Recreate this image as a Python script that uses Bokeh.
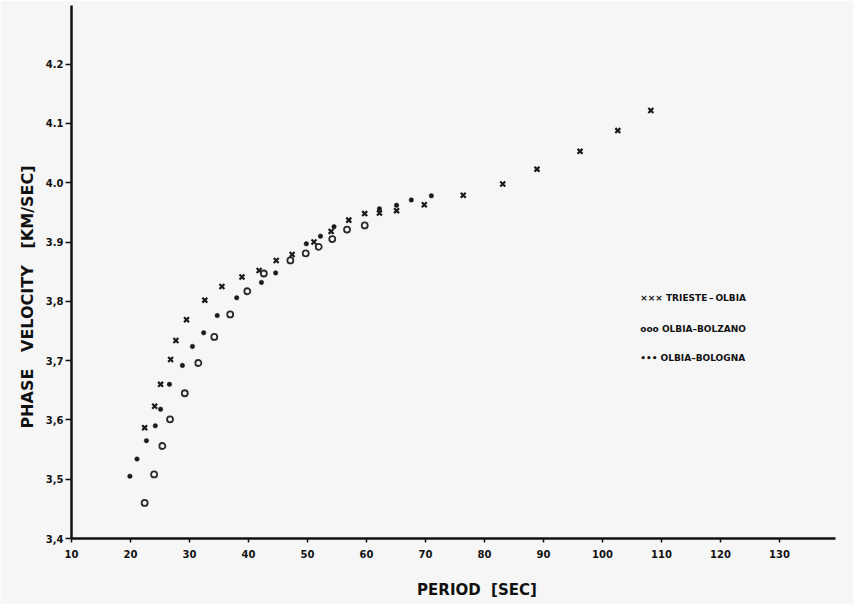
from bokeh.plotting import figure
from bokeh.models import FixedTicker, Label, Range1d
from bokeh.embed import file_html
from bokeh.resources import INLINE

# TRIESTE-OLBIA (crosses)
trieste_period = [22.4, 24.1, 25.1, 26.8, 27.7, 29.5, 32.6, 35.5, 38.9, 41.8, 44.7, 47.4,
                  51.1, 54.0, 57.0, 59.7, 62.2, 65.1, 69.8, 76.4, 83.1, 88.9, 96.2, 102.6, 108.2]
trieste_velocity = [3.587, 3.623, 3.660, 3.702, 3.734, 3.769, 3.802, 3.825, 3.841, 3.852, 3.869, 3.879,
                    3.900, 3.918, 3.937, 3.948, 3.949, 3.953, 3.963, 3.979, 3.998, 4.023, 4.053, 4.088, 4.122]

# OLBIA-BOLZANO (open circles)
bolzano_period = [22.4, 24.0, 25.4, 26.7, 29.2, 31.5, 34.2, 36.9, 39.8, 42.6, 47.1, 49.7,
                  51.9, 54.2, 56.7, 59.7]
bolzano_velocity = [3.460, 3.508, 3.556, 3.601, 3.645, 3.696, 3.740, 3.778, 3.817, 3.847, 3.869, 3.881,
                    3.892, 3.905, 3.921, 3.928]

# OLBIA-BOLOGNA (dots)
bologna_period = [19.9, 21.1, 22.7, 24.2, 25.1, 26.6, 28.8, 30.5, 32.4, 34.7, 38.0, 42.2,
                  44.6, 49.8, 52.2, 54.5, 62.2, 65.1, 67.6, 71.0]
bologna_velocity = [3.505, 3.534, 3.565, 3.590, 3.618, 3.660, 3.692, 3.724, 3.747, 3.776, 3.806, 3.832,
                    3.848, 3.897, 3.910, 3.926, 3.956, 3.962, 3.971, 3.978]

x_ticks = [10, 20, 30, 40, 50, 60, 70, 80, 90, 100, 110, 120, 130]
y_ticks = [3.4, 3.5, 3.6, 3.7, 3.8, 3.9, 4.0, 4.1, 4.2]
y_tick_labels = ["3,4", "3,5", "3,6", "3,7", "3,8", "3.9", "4.0", "4.1", "4.2"]

legend_names = ["TRIESTE\u2009\u2013\u2009OLBIA", "OLBIA\u2013BOLZANO", "OLBIA\u2013BOLOGNA"]
legend_symbols = ["\u00d7\u00d7\u00d7", "ooo", "\u2022\u2022\u2022"]

BG = "#f6f6f6"
FONT = "DejaVu Sans"
NB = "\u00a0"

p = figure(width=853, height=604, output_backend="svg", toolbar_location=None,
           x_range=Range1d(10, 139.5), y_range=Range1d(3.4, 4.299),
           min_border_left=71, min_border_right=18, min_border_top=5, min_border_bottom=66)

p.background_fill_color = BG
p.border_fill_color = BG
p.outline_line_color = None
p.xgrid.visible = False
p.ygrid.visible = False

for ax in (p.xaxis[0], p.yaxis[0]):
    ax.axis_line_width = 2.5
    ax.axis_line_color = "#111111"
    ax.major_tick_line_color = "#111111"
    ax.major_tick_line_width = 1.5
    ax.major_tick_in = 0
    ax.minor_tick_line_color = None
    ax.major_label_text_font = FONT
    ax.major_label_text_font_style = "bold"
    ax.major_label_text_color = "#111111"
    ax.axis_label_text_font = FONT
    ax.axis_label_text_font_style = "bold"
    ax.axis_label_text_color = "#111111"

p.xaxis.ticker = FixedTicker(ticks=x_ticks)
p.xaxis.major_tick_out = 4
p.xaxis.major_label_text_font_size = "10px"
p.xaxis.major_label_standoff = 7
p.xaxis.axis_label = NB * 9 + "PERIOD" + NB * 2 + "[SEC]"
p.xaxis.axis_label_text_font_size = "15px"
p.xaxis.axis_label_standoff = 20

p.yaxis.ticker = FixedTicker(ticks=y_ticks)
p.yaxis.major_label_overrides = {t: l for t, l in zip(y_ticks, y_tick_labels)}
p.yaxis.major_tick_out = 6
p.yaxis.major_label_text_font_size = "10px"
p.yaxis.major_label_standoff = 2
p.yaxis.axis_label = "PHASE" + NB * 3 + "VELOCITY" + NB * 3 + "[KM/SEC]" + NB * 9
p.yaxis.axis_label_text_font_size = "16px"
p.yaxis.axis_label_standoff = 6

p.scatter(trieste_period, trieste_velocity, marker="x", size=7, line_width=2.2,
          line_color="#1a1a1a")
p.scatter(bolzano_period, bolzano_velocity, marker="circle", size=6, line_width=1.8,
          line_color="#2a2a2a", fill_color=None)
p.scatter(bologna_period, bologna_velocity, marker="circle", size=4.5, line_width=0.5,
          line_color="#1a1a1a", fill_color="#1a1a1a")

legend_y = [3.805, 3.754, 3.704]
for sym, name, yy in zip(legend_symbols, legend_names, legend_y):
    p.add_layout(Label(x=106.4, y=yy, text=sym + " " + name, text_baseline="middle",
                       text_font=FONT, text_font_style="bold", text_font_size="9px",
                       text_color="#111111"))

open("out.html", "w").write(file_html(p, INLINE))
